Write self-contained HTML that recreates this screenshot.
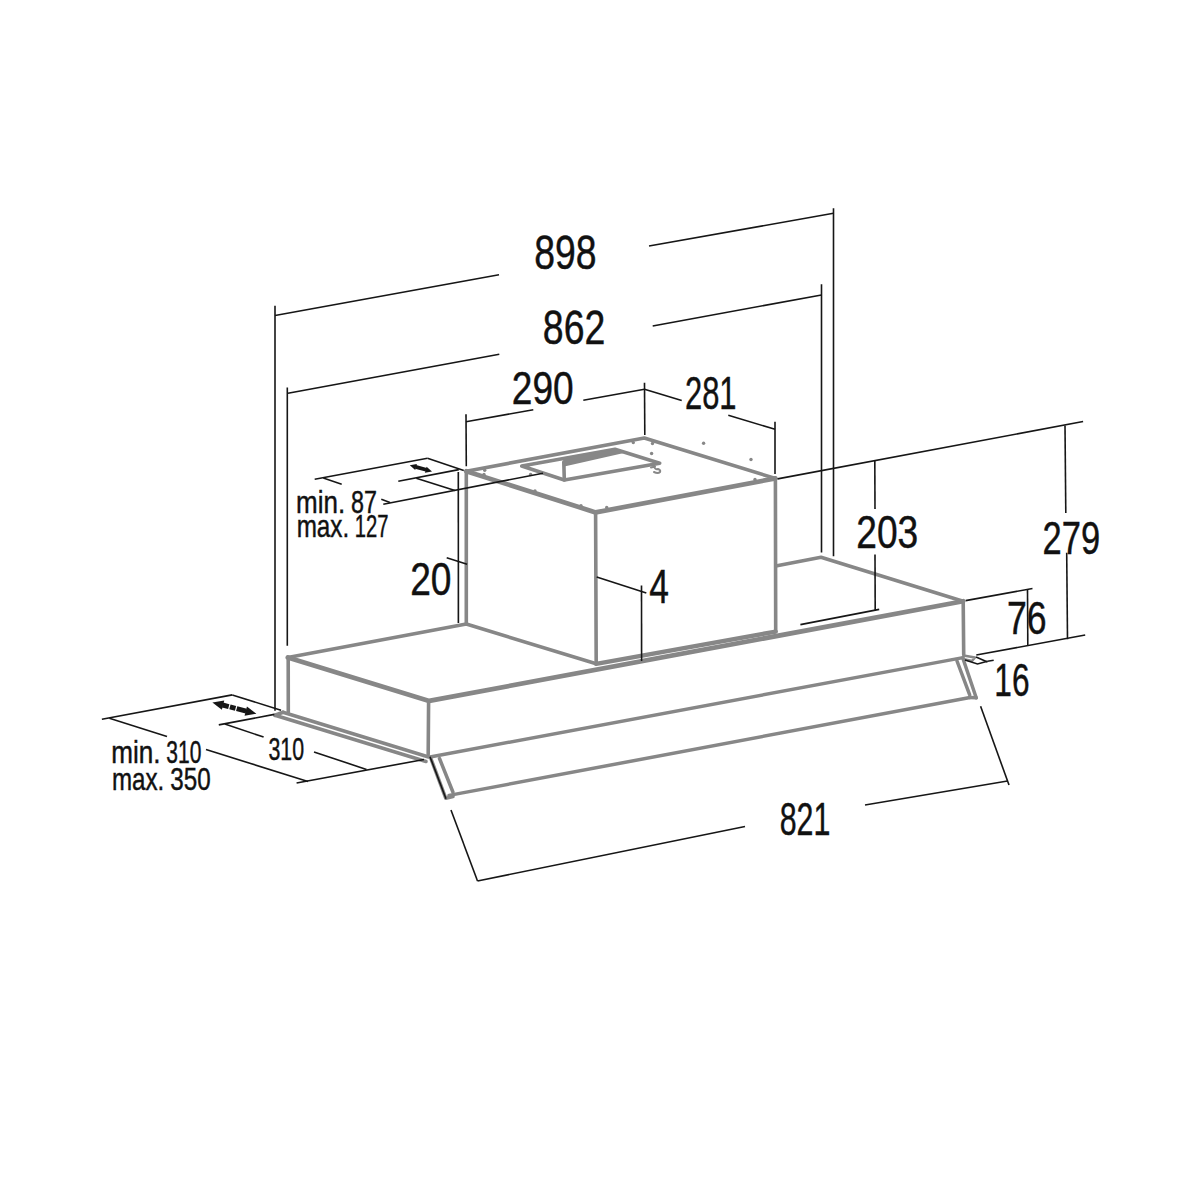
<!DOCTYPE html>
<html><head><meta charset="utf-8"><style>
html,body{margin:0;padding:0;background:#fff;}
body{width:1200px;height:1200px;overflow:hidden;}
svg{display:block;}
text{font-family:"Liberation Sans",sans-serif;fill:#111;stroke:#111;stroke-width:0.45px;}
</style></head><body>
<svg width="1200" height="1200" viewBox="0 0 1200 1200">
<rect width="1200" height="1200" fill="#fff"/>
<g stroke="#878787" stroke-width="3.6" fill="none" stroke-linejoin="round" stroke-linecap="round">
<polyline points="466.3,471.2 644.3,438.0 775.4,478.4"/>
<g stroke-width="4.7"><polyline points="466.3,471.2 595.6,512.4 775.4,478.4"/></g>
<line x1="466.3" y1="471.2" x2="466.3" y2="624.0"/>
<line x1="595.6" y1="512.4" x2="596.2" y2="663.8"/>
<line x1="775.4" y1="478.4" x2="775.7" y2="631.6"/>
<polyline points="466.3,624.0 596.2,663.8"/>
<g stroke-width="4.4"><line x1="596.2" y1="663.8" x2="775.7" y2="631.6"/></g>
<polygon points="521.7,466.0 615.0,449.3 659.7,463.3 564.3,480.0"/>
<line x1="563.8" y1="462" x2="564.3" y2="480"/>
<path d="M651,467.5 l4,-1 M654,466 q1,4 4,3 q3,1 2,3 q-2,2 -6,0" stroke-width="2"/>
<polyline points="466.3,624.0 287.8,657.4"/>
<g stroke-width="4.7"><polyline points="287.8,657.4 429.2,700.9 963.1,601.2"/></g>
<polyline points="963.1,601.2 821.0,557.2 775.7,565.9"/>
<line x1="288.2" y1="657.4" x2="288.3" y2="712.3"/>
<line x1="428.6" y1="700.9" x2="428.2" y2="754.5"/>
<line x1="963.2" y1="601.2" x2="963.7" y2="654.5"/>
<g stroke-width="3.5"><line x1="430.0" y1="757.0" x2="963.0" y2="657.6"/></g>
<g stroke-width="3.6"><line x1="283.0" y1="712.3" x2="428.6" y2="757.0"/><line x1="275.0" y1="715.3" x2="426.0" y2="761.5"/><line x1="275.0" y1="715.3" x2="283.0" y2="712.3"/></g>
<g stroke-width="3.5"><polyline points="430.5,757.5 445.8,798.3 453.0,796.6"/><line x1="449.0" y1="795.4" x2="970.0" y2="697.5"/><line x1="439.5" y1="758.5" x2="452.9" y2="792.0"/><line x1="962.8" y1="658.0" x2="976.2" y2="697.8"/><line x1="957.0" y1="661.0" x2="969.7" y2="694.8"/><line x1="969.7" y1="697.5" x2="976.2" y2="697.8"/></g>
<g stroke-width="2.5"><polyline points="963.5,655.5 975,657.5 972,661 963,659"/></g>
</g>
<polygon fill="#878787" stroke="none" points="563,458.8 615,449.4 625,452.8 564.3,466.5"/>
<circle cx="484.7" cy="470.2" r="1.7" fill="#878787"/>
<circle cx="484.0" cy="474.5" r="1.7" fill="#878787"/>
<circle cx="535.0" cy="491.0" r="1.7" fill="#878787"/>
<circle cx="581.0" cy="505.7" r="1.7" fill="#878787"/>
<circle cx="606.7" cy="507.5" r="1.7" fill="#878787"/>
<circle cx="633.3" cy="442.6" r="1.7" fill="#878787"/>
<circle cx="652.5" cy="443.5" r="1.7" fill="#878787"/>
<circle cx="651.6" cy="453.5" r="1.7" fill="#878787"/>
<circle cx="703.6" cy="443.3" r="1.7" fill="#878787"/>
<circle cx="751.0" cy="459.5" r="1.7" fill="#878787"/>
<circle cx="755.0" cy="479.5" r="1.7" fill="#878787"/>
<circle cx="530.6" cy="474.5" r="1.7" fill="#878787"/>
<g stroke="#161616" stroke-width="1.6" fill="none" stroke-linecap="butt">
<line x1="275.0" y1="305.8" x2="275.0" y2="710.8"/>
<line x1="833.5" y1="208.3" x2="833.5" y2="556.2"/>
<line x1="275.0" y1="315.5" x2="499.0" y2="274.7"/>
<line x1="649.0" y1="246.0" x2="833.5" y2="213.3"/>
<line x1="287.3" y1="387.5" x2="287.3" y2="645.8"/>
<line x1="821.5" y1="284.3" x2="821.5" y2="552.5"/>
<line x1="288.0" y1="393.3" x2="499.3" y2="354.3"/>
<line x1="652.7" y1="326.0" x2="821.5" y2="295.0"/>
<line x1="466.0" y1="414.3" x2="466.3" y2="466.3"/>
<line x1="644.5" y1="382.7" x2="644.8" y2="435.0"/>
<line x1="775.0" y1="421.7" x2="775.0" y2="474.0"/>
<line x1="466.0" y1="421.7" x2="533.3" y2="409.8"/>
<line x1="583.3" y1="400.2" x2="644.5" y2="389.3"/>
<line x1="644.5" y1="389.3" x2="681.7" y2="400.5"/>
<line x1="728.3" y1="415.3" x2="775.0" y2="429.3"/>
<line x1="777.6" y1="478.9" x2="1083.1" y2="421.5"/>
<line x1="874.8" y1="460.3" x2="875.0" y2="509.0"/>
<line x1="875.0" y1="554.5" x2="875.2" y2="610.0"/>
<line x1="800.4" y1="624.6" x2="879.2" y2="609.4"/>
<line x1="1065.0" y1="425.6" x2="1065.8" y2="513.0"/>
<line x1="1066.7" y1="552.7" x2="1067.5" y2="639.2"/>
<line x1="976.3" y1="655.0" x2="1085.2" y2="635.0"/>
<line x1="965.6" y1="600.6" x2="1032.5" y2="588.5"/>
<line x1="1027.5" y1="589.4" x2="1027.8" y2="645.6"/>
<polyline points="965.0,660.0 977.5,664.0 987.5,661.3"/>
<line x1="976.0" y1="657.0" x2="987.5" y2="662.0"/>
<line x1="987.5" y1="661.3" x2="993.7" y2="660.3"/>
<line x1="596.7" y1="577.0" x2="646.3" y2="593.1"/>
<line x1="641.5" y1="585.4" x2="641.6" y2="661.0"/>
<line x1="458.3" y1="472.0" x2="458.4" y2="622.9"/>
<line x1="446.7" y1="557.8" x2="467.1" y2="564.3"/>
<line x1="314.7" y1="479.2" x2="427.5" y2="458.3"/>
<line x1="323.3" y1="478.0" x2="341.7" y2="484.2"/>
<line x1="427.5" y1="458.3" x2="463.8" y2="470.4"/>
<line x1="398.3" y1="481.3" x2="458.8" y2="469.6"/>
<line x1="416.3" y1="478.3" x2="455.0" y2="490.4"/>
<line x1="383.3" y1="504.2" x2="543.0" y2="473.2"/>
<line x1="381.3" y1="499.2" x2="390.0" y2="502.5"/>
<line x1="101.9" y1="719.2" x2="232.3" y2="694.9"/>
<line x1="232.3" y1="694.9" x2="281.0" y2="710.3"/>
<line x1="109.4" y1="718.3" x2="167.0" y2="736.4"/>
<line x1="206.0" y1="749.6" x2="308.0" y2="781.4"/>
<line x1="296.6" y1="783.0" x2="424.0" y2="759.5"/>
<line x1="218.8" y1="724.9" x2="274.3" y2="714.4"/>
<line x1="224.8" y1="724.1" x2="263.6" y2="737.0"/>
<line x1="314.0" y1="752.0" x2="366.5" y2="769.4"/>
<line x1="430.0" y1="756.7" x2="446.0" y2="798.7"/>
<line x1="451.0" y1="810.0" x2="477.5" y2="881.0"/>
<line x1="477.5" y1="881.0" x2="745.0" y2="826.5"/>
<line x1="865.0" y1="805.0" x2="1007.5" y2="781.0"/>
<line x1="980.6" y1="706.3" x2="1009.0" y2="785.0"/>
</g>
<g fill="#161616" stroke="none">
<polygon points="409.8,465.2 415.23,469.93 416.89,463.96"/><polygon points="432.0,471.4 424.91,472.64 426.57,466.67"/><polygon points="415.07,468.64 425.71,471.62 426.73,467.96 416.09,464.98"/>
<polygon points="212.4,702.4 221.86,709.76 224.24,700.56"/><polygon points="256.4,713.8 244.56,715.64 246.94,706.44"/><polygon points="221.94,707.45 228.13,709.06 229.39,704.22 223.19,702.61"/><polygon points="229.29,709.36 234.91,710.81 236.16,705.97 230.55,704.52"/><polygon points="236.07,711.12 245.61,713.59 246.86,708.75 237.32,706.28"/>
</g>
<g>
<text transform="translate(534.18,268.74) scale(0.7921,1)" font-size="47.17">898</text>
<text transform="translate(542.87,344.24) scale(0.7895,1)" font-size="47.46">862</text>
<text transform="translate(511.83,404.24) scale(0.7866,1)" font-size="47.17">290</text>
<text transform="translate(684.95,409.34) scale(0.6571,1)" font-size="47.03">281</text>
<text transform="translate(856.23,547.95) scale(0.8096,1)" font-size="45.90">203</text>
<text transform="translate(1042.56,554.14) scale(0.7336,1)" font-size="47.03">279</text>
<text transform="translate(1006.92,633.94) scale(0.7578,1)" font-size="47.03">76</text>
<text transform="translate(994.29,695.74) scale(0.6749,1)" font-size="46.89">16</text>
<text transform="translate(649.29,603.40) scale(0.7455,1)" font-size="47.38">4</text>
<text transform="translate(410.13,594.54) scale(0.7970,1)" font-size="46.61">20</text>
<text transform="translate(779.68,834.64) scale(0.6461,1)" font-size="47.03">821</text>
<text transform="translate(268.39,760.29) scale(0.6753,1)" font-size="31.64">310</text>
<text transform="translate(296.07,512.50) scale(0.8083,1)" font-size="32.16">min.</text>
<text transform="translate(350.99,512.50) scale(0.7661,1)" font-size="30.44">87</text>
<text transform="translate(296.64,537.00) scale(0.7702,1)" font-size="31.50">max.</text>
<text transform="translate(354.66,537.00) scale(0.6541,1)" font-size="30.93">127</text>
<text transform="translate(111.27,762.80) scale(0.8260,1)" font-size="31.60">min.</text>
<text transform="translate(166.30,762.90) scale(0.6790,1)" font-size="31.00">310</text>
<text transform="translate(111.90,790.30) scale(0.7663,1)" font-size="31.50">max.</text>
<text transform="translate(170.28,790.40) scale(0.7786,1)" font-size="31.07">350</text>
</g>
</svg>
</body></html>
